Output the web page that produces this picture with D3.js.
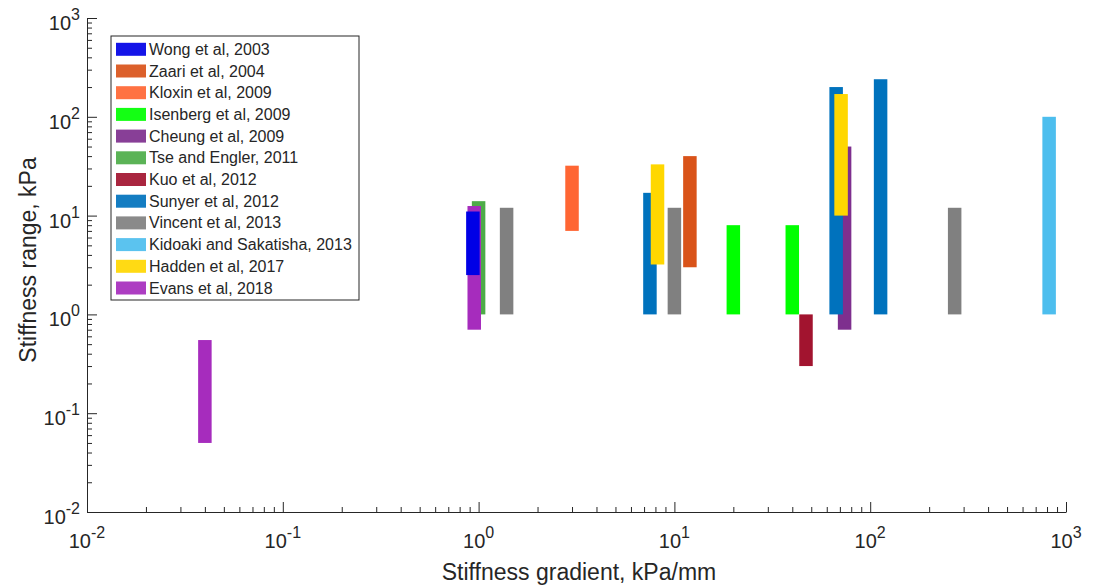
<!DOCTYPE html>
<html>
<head>
<meta charset="utf-8">
<script src="https://cdn.jsdelivr.net/npm/d3@7"></script>
<style>
  body { margin: 0; background: #fff; }
  svg { font-family: "Liberation Sans", Arial, sans-serif; }
</style>
</head>
<body>
<div id="container"></div>
<script>
/* CONSTANTS AND GLOBALS */
const width = 1094,
  height = 588,
  margin = { top: 18, bottom: 76, left: 87, right: 28 },
  barWidth = 13.5;

// studies shown in the legend (legend order)
const studies = [
  "Wong et al, 2003", "Zaari et al, 2004", "Kloxin et al, 2009", "Isenberg et al, 2009",
  "Cheung et al, 2009", "Tse and Engler, 2011", "Kuo et al, 2012", "Sunyer et al, 2012",
  "Vincent et al, 2013", "Kidoaki and Sakatisha, 2013", "Hadden et al, 2017", "Evans et al, 2018"
];
const studyColors = [
  "#0000e6", "#d95319", "#ff6633", "#00ff00", "#7e2f8e", "#4dac48",
  "#a2142f", "#0072bd", "#808080", "#4dbeee", "#ffd700", "#a62cbd"
];

// bars, in drawing order: study index, gradient (kPa/mm), stiffness low / high (kPa)
const barStudy = [1, 2, 3, 3, 4, 5, 6, 7, 7, 7, 8, 8, 8, 9, 10, 10, 11, 11, 0];
const barGrad  = [12, 3, 20, 40, 74, 1, 47, 7.5, 67, 113, 1.39, 10, 270, 820, 8.2, 71, 0.04, 0.95, 0.935];
const barLow   = [3, 7, 1, 1, 0.7, 1, 0.3, 1, 1, 1, 1, 1, 1, 1, 3.2, 10, 0.05, 0.7, 2.5];
const barHigh  = [40, 32, 8, 8, 50, 14, 1, 17, 200, 240, 12, 12, 12, 100, 33, 170, 0.55, 12.5, 11];

const decades = [-2, -1, 0, 1, 2, 3];

let xScale, yScale;

init();

function init() {
  const bars = barStudy.map((s, i) => ({
    study: s, x: barGrad[i], lo: barLow[i], hi: barHigh[i]
  }));

  /* SCALES */
  xScale = d3.scaleLog()
    .domain([0.01, 1000])
    .range([margin.left, width - margin.right]);

  yScale = d3.scaleLog()
    .domain([0.01, 1000])
    .range([height - margin.bottom, margin.top]);

  const svg = d3.select("#container")
    .append("svg")
    .attr("width", width)
    .attr("height", height);

  const majors = decades.map(d => Math.pow(10, d));
  const minors = [];
  decades.slice(0, -1).forEach(d => {
    for (let k = 2; k <= 9; k++) minors.push(k * Math.pow(10, d));
  });

  // bars
  svg.selectAll("rect.bar")
    .data(bars)
    .join("rect")
    .attr("class", "bar")
    .attr("x", d => xScale(d.x) - barWidth / 2)
    .attr("width", barWidth)
    .attr("y", d => yScale(d.hi))
    .attr("height", d => yScale(d.lo) - yScale(d.hi))
    .attr("fill", d => studyColors[d.study]);

  // x-axis (ticks pointing inward)
  const xAxis = svg.append("g")
    .attr("class", "x-axis")
    .attr("transform", `translate(0, ${height - margin.bottom})`);
  xAxis.call(d3.axisBottom(xScale).tickValues(majors).tickSizeInner(-10).tickSizeOuter(0).tickFormat(""));
  xAxis.append("g").call(d3.axisBottom(xScale).tickValues(minors).tickSizeInner(-5).tickSizeOuter(0).tickFormat(""))
    .select(".domain").remove();

  // y-axis
  const yAxis = svg.append("g")
    .attr("class", "y-axis")
    .attr("transform", `translate(${margin.left}, 0)`);
  yAxis.call(d3.axisLeft(yScale).tickValues(majors).tickSizeInner(-10).tickSizeOuter(0).tickFormat(""));
  yAxis.append("g").call(d3.axisLeft(yScale).tickValues(minors).tickSizeInner(-5).tickSizeOuter(0).tickFormat(""))
    .select(".domain").remove();

  svg.selectAll(".domain, .tick line")
    .attr("stroke", "#262626")
    .attr("stroke-width", 1);

  // tick labels with superscripts
  const xLab = svg.selectAll("text.xlab")
    .data(decades)
    .join("text")
    .attr("class", "xlab")
    .attr("x", d => xScale(Math.pow(10, d)))
    .attr("y", height - margin.bottom + 36)
    .attr("text-anchor", "middle")
    .attr("fill", "#262626")
    .style("font-size", "20px");
  xLab.append("tspan").text("10");
  xLab.append("tspan").attr("dy", -10).style("font-size", "16px").text(d => d);

  const yLab = svg.selectAll("text.ylab")
    .data(decades)
    .join("text")
    .attr("class", "ylab")
    .attr("x", margin.left - 7)
    .attr("y", d => yScale(Math.pow(10, d)) + 12)
    .attr("text-anchor", "end")
    .attr("fill", "#262626")
    .style("font-size", "20px");
  yLab.append("tspan").text("10");
  yLab.append("tspan").attr("dy", -10).style("font-size", "16px").text(d => d);

  // axis titles
  svg.append("text")
    .attr("x", 579)
    .attr("y", height - 8)
    .attr("text-anchor", "middle")
    .attr("fill", "#262626")
    .style("font-size", "23px")
    .text("Stiffness gradient, kPa/mm");

  svg.append("text")
    .attr("transform", `translate(36, 260) rotate(-90)`)
    .attr("text-anchor", "middle")
    .attr("fill", "#262626")
    .style("font-size", "23px")
    .text("Stiffness range, kPa");

  // legend
  const legend = svg.append("g")
    .attr("class", "legend")
    .attr("transform", "translate(111, 36)");
  legend.append("rect")
    .attr("width", 248)
    .attr("height", 264)
    .attr("fill", "#fff")
    .attr("stroke", "#262626")
    .attr("stroke-width", 1);
  const item = legend.selectAll("g.item")
    .data(studies)
    .join("g")
    .attr("class", "item")
    .attr("transform", (d, i) => `translate(0, ${13.3 + i * 21.7})`);
  item.append("rect")
    .attr("x", 5)
    .attr("y", -6.5)
    .attr("width", 30)
    .attr("height", 13)
    .attr("fill", (d, i) => studyColors[i])
    .attr("fill-opacity", 0.92);
  item.append("text")
    .attr("x", 38)
    .attr("y", 5.5)
    .attr("fill", "#262626")
    .style("font-size", "16px")
    .text(d => d);
}
</script>
</body>
</html>
